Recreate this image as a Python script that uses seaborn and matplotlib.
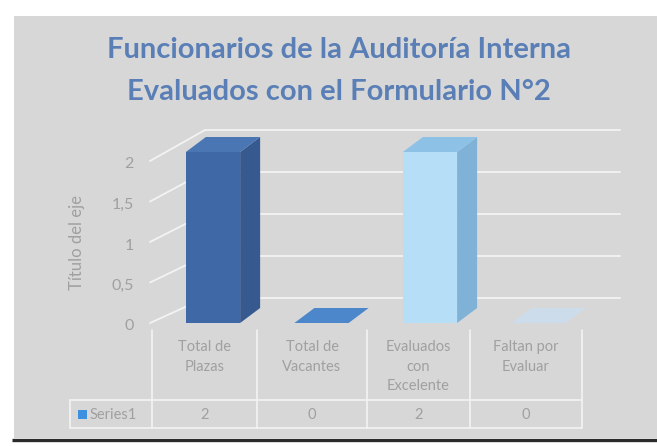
import numpy as np
import pandas as pd
import matplotlib
matplotlib.use("Agg")
import matplotlib.pyplot as plt
import seaborn as sns
from matplotlib.patches import Polygon, Rectangle

# ---------------- data ----------------
categories = ["Total de\nPlazas", "Total de\nVacantes", "Evaluados\ncon\nExcelente", "Faltan por\nEvaluar"]
values = [2, 0, 2, 0]
series_name = "Series1"
value_labels = ["2", "0", "2", "0"]
y_ticks = [0, 0.5, 1, 1.5, 2]
y_tick_labels = ["0", "0,5", "1", "1,5", "2"]
title_lines = ["Funcionarios de la Auditoría Interna", "Evaluados con el Formulario N°2"]
y_title = "Título del eje"

# ---------------- style ----------------
front_colors = ["#3f68a6", "#4a84c8", "#b7def7", "#d2dfea"]
side_colors = ["#36598f", "#3f72ad", "#80b2d7", "#c9d7e3"]
top_colors = ["#4a76b3", "#4c87cb", "#8dc1e6", "#cddcea"]
BG = "#d7d7d7"
GRID = "#f3f3f3"
TXT = "#a0a0a0"
TITLE = "#5a7fb6"

W, H = 657, 446
sns.set_theme(style="white")
plt.rcParams["font.family"] = ["Lato", "DejaVu Sans"]

fig = plt.figure(figsize=(W / 100, H / 100), dpi=100)
fig.patch.set_facecolor("white")

# full-figure pixel canvas for chart furniture
bg = fig.add_axes([0, 0, 1, 1])
bg.set_xlim(0, W)
bg.set_ylim(H, 0)
bg.axis("off")
bg.set_zorder(0)
bg.add_patch(Rectangle((14, 16), W - 14, 422, facecolor=BG, edgecolor="none", zorder=0))
bg.plot([12, W], [439.5, 439.5], color="#2a2a2a", lw=2.4, solid_capstyle="butt", zorder=1)

# title
bg.text(339, 50, title_lines[0], ha="center", va="center", fontsize=21,
        fontweight="bold", color=TITLE, zorder=2)
bg.text(339, 92, title_lines[1], ha="center", va="center", fontsize=21,
        fontweight="bold", color=TITLE, zorder=2)

# 3D walls: back gridlines and left-wall diagonals
def back_y(v):
    return 298 - 84 * v

def front_y(v):
    return 325 - 81 * v

for v in y_ticks:
    bg.plot([205, 620], [back_y(v), back_y(v)], color=GRID, lw=1.3, zorder=1)
    bg.plot([150, 205], [front_y(v) - 2, back_y(v)], color=GRID, lw=1.3, zorder=1)

# ---------------- main axes (bars) ----------------
PX_X, X0_PX = 108.5, 213.0
PX_Y, Y0_PX = 85.5, 323.0
xlim = (-0.6, 3.8)
ylim = (-0.1, 2.6)
left_px = X0_PX + xlim[0] * PX_X
width_px = (xlim[1] - xlim[0]) * PX_X
bottom_px = Y0_PX - ylim[0] * PX_Y
top_px = Y0_PX - ylim[1] * PX_Y
rect = [left_px / W, (H - bottom_px) / H, width_px / W, (bottom_px - top_px) / H]

ax = fig.add_axes(rect)
ax.set_zorder(2)
ax.patch.set_alpha(0)

df = pd.DataFrame({"categoria": categories, "valor": values})
sns.barplot(data=df, x="categoria", y="valor", hue="categoria", palette=front_colors,
            width=0.5, saturation=1, legend=False, ax=ax, linewidth=0)
ax.set_xlim(*xlim)
ax.set_ylim(*ylim)
ax.axis("off")

ddx = 20 / PX_X
ddy = 15 / PX_Y
for i, p in enumerate(list(ax.patches)):
    x0, w, h = p.get_x(), p.get_width(), p.get_height()
    p.set_zorder(4)
    side = Polygon([(x0 + w, 0), (x0 + w + ddx, ddy), (x0 + w + ddx, h + ddy), (x0 + w, h)],
                   closed=True, facecolor=side_colors[i], edgecolor="none", zorder=3)
    top = Polygon([(x0, h), (x0 + ddx, h + ddy), (x0 + w + ddx, h + ddy), (x0 + w, h)],
                  closed=True, facecolor=top_colors[i], edgecolor="none", zorder=3.5)
    ax.add_patch(side)
    ax.add_patch(top)

# ---------------- value axis (front plane) ----------------
axl = fig.add_axes(rect)
axl.set_zorder(1)
axl.patch.set_alpha(0)
axl.set_ylim((325 - bottom_px) / 81, (325 - top_px) / 81)
axl.set_xticks([])
axl.set_yticks(y_ticks, y_tick_labels)
axl.tick_params(axis="y", length=0, pad=10, labelsize=11.5, labelcolor=TXT)
for s in axl.spines.values():
    s.set_visible(False)
axl.set_ylabel(y_title, fontsize=12, color=TXT)
axl.yaxis.set_label_coords((85 - left_px) / width_px, (bottom_px - 243) / (bottom_px - top_px))

# ---------------- data table ----------------
col_edges = [152, 257, 367, 470, 582]
for xe in col_edges:
    bg.plot([xe, xe], [330, 428], color=GRID, lw=1.2, zorder=1)
bg.plot([70, col_edges[-1]], [400, 400], color=GRID, lw=1.2, zorder=1)
bg.plot([70, col_edges[-1]], [428, 428], color=GRID, lw=1.2, zorder=1)
bg.plot([70, 70], [400, 428], color=GRID, lw=1.2, zorder=1)

for i, cat in enumerate(categories):
    cx = (col_edges[i] + col_edges[i + 1]) / 2
    bg.text(cx, 340, cat, ha="center", va="top", fontsize=10.5, color=TXT,
            linespacing=1.52, zorder=2)
    bg.text(cx, 415, value_labels[i], ha="center", va="center", fontsize=10.5,
            color=TXT, zorder=2)

bg.add_patch(Rectangle((78, 410), 9, 9, facecolor="#3d8fe0", edgecolor="none", zorder=2))
bg.text(90, 415, series_name, ha="left", va="center", fontsize=10.5, color=TXT, zorder=2)

fig.savefig("out.png", dpi=100)
